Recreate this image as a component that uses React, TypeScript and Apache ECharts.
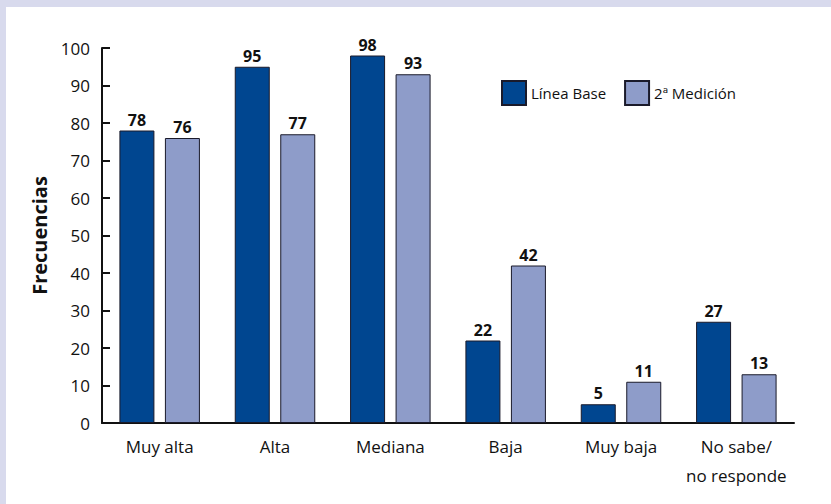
import React, { useEffect, useRef } from "react";
import * as echarts from "echarts";

const categories = ["Muy alta", "Alta", "Mediana", "Baja", "Muy baja", "No sabe/\nno responde"];
const lineaBase = [78, 95, 98, 22, 5, 27];
const segundaMedicion = [76, 77, 93, 42, 11, 13];
const seriesNames = ["Línea Base", "2ª Medición"];
const FONT = "'Open Sans', Lato, sans-serif";

export default function App() {
  const ref = useRef<HTMLDivElement>(null);
  useEffect(() => {
    document.body.style.margin = "0";
    const chart = echarts.init(ref.current!, null, { renderer: "svg" });
    const labelStyle = {
      show: true,
      position: "top" as const,
      distance: 3,
      fontFamily: FONT,
      fontWeight: "bold" as const,
      fontSize: 16,
      color: "#111",
    };
    chart.setOption({
      animation: false,
      backgroundColor: "#ffffff",
      graphic: [
        { type: "rect", shape: { x: 0, y: 0, width: 831, height: 7 }, style: { fill: "#D8DAED" }, silent: true },
        { type: "rect", shape: { x: 0, y: 0, width: 6, height: 504 }, style: { fill: "#D8DAED" }, silent: true },
      ],
      legend: {
        left: 501,
        top: 80,
        padding: 0,
        icon: "rect",
        itemWidth: 24,
        itemHeight: 24,
        itemGap: 18,
        textStyle: { fontFamily: FONT, fontSize: 15, color: "#111" },
        data: seriesNames,
      },
      grid: { left: 102, right: 37, top: 48, bottom: 81, containLabel: false },
      xAxis: {
        type: "category",
        data: categories,
        axisLine: { lineStyle: { color: "#111", width: 2 } },
        axisTick: { show: false },
        axisLabel: { interval: 0, fontFamily: FONT, fontSize: 17, color: "#111", margin: 9, lineHeight: 29 },
      },
      yAxis: {
        type: "value",
        min: 0,
        max: 100,
        interval: 10,
        name: "Frecuencias",
        nameLocation: "middle",
        nameGap: 48,
        nameTextStyle: { fontFamily: FONT, fontSize: 20, fontWeight: "bold", color: "#111" },
        axisLine: { show: true, lineStyle: { color: "#111", width: 2 } },
        axisTick: { show: true, inside: true, length: 8, lineStyle: { color: "#111", width: 2 } },
        splitLine: { show: false },
        axisLabel: { fontFamily: FONT, fontSize: 17, color: "#111", margin: 12 },
      },
      series: [
        {
          name: seriesNames[0],
          type: "bar",
          data: lineaBase,
          barWidth: 35,
          barGap: "30%",
          itemStyle: { color: "#004690", borderColor: "#1a1a2a", borderWidth: 1 },
          label: labelStyle,
        },
        {
          name: seriesNames[1],
          type: "bar",
          data: segundaMedicion,
          barWidth: 35,
          itemStyle: { color: "#8E9CC9", borderColor: "#1a1a2a", borderWidth: 1 },
          label: labelStyle,
        },
      ],
    });
    return () => chart.dispose();
  }, []);
  return <div ref={ref} style={{ width: 831, height: 504, position: "fixed", left: 0, top: 0 }} />;
}
